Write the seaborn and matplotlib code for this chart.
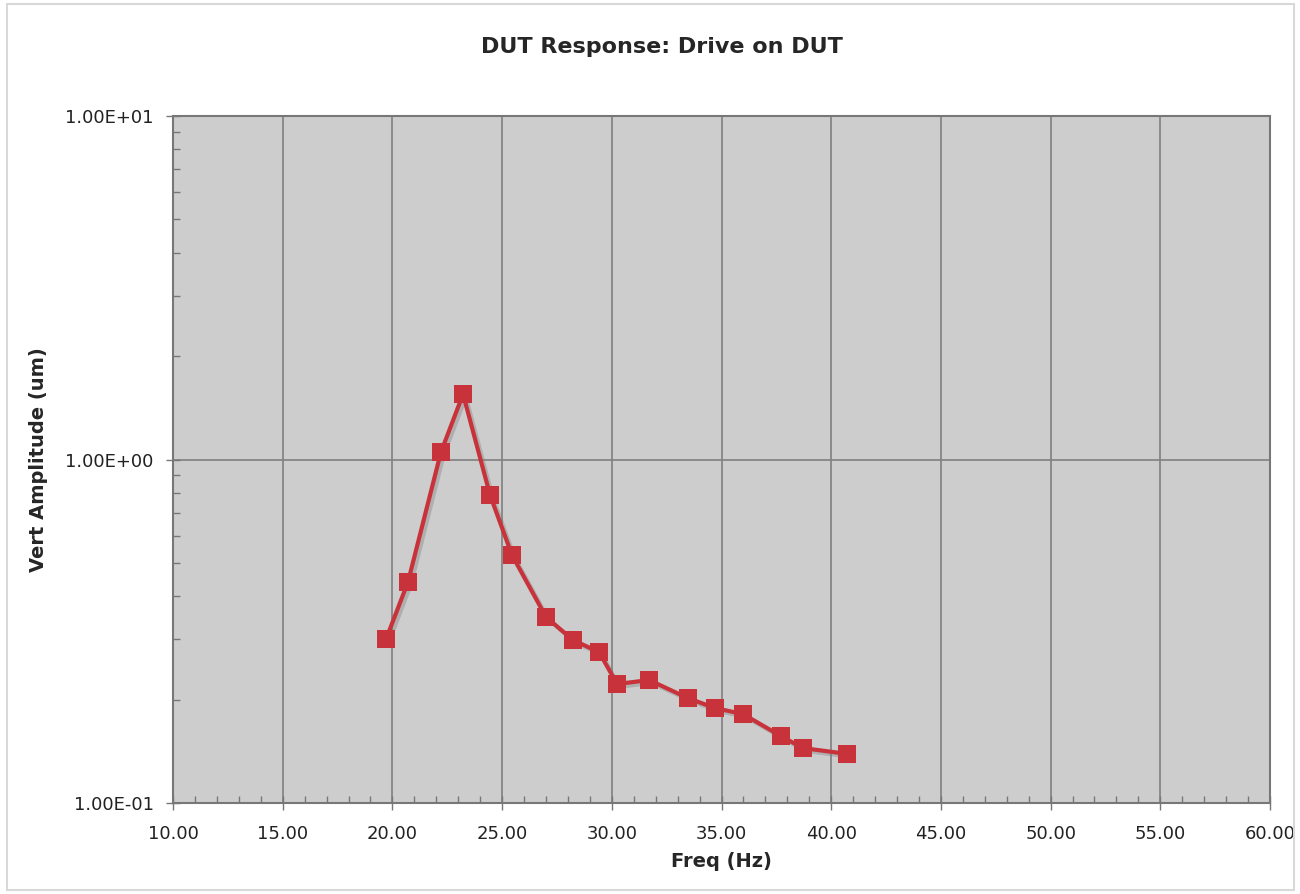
import numpy as np
import pandas as pd
import matplotlib
matplotlib.use('Agg')
import matplotlib.pyplot as plt
import matplotlib.patheffects as pe
from matplotlib.ticker import FuncFormatter, MultipleLocator, LogLocator, NullFormatter
from matplotlib.patches import Rectangle
import seaborn as sns

# values
freq = [19.71, 20.71, 22.21, 23.22, 24.45, 25.45, 27.00, 28.23, 29.42, 30.24,
        31.70, 33.47, 34.70, 35.98, 37.71, 38.71, 40.72]
amplitude = [0.300, 0.440, 1.05, 1.55, 0.788, 0.527, 0.348, 0.298, 0.275, 0.222,
             0.228, 0.202, 0.189, 0.1815, 0.1566, 0.1445, 0.139]

title = 'DUT Response: Drive on DUT'
xlabel = 'Freq (Hz)'
ylabel = 'Vert Amplitude (um)'

linecolor = '#c8323a'


def main():
    df = pd.DataFrame({'freq': freq, 'amp': amplitude})

    sns.set_style('ticks')
    plt.rcParams['font.family'] = ['DejaVu Sans']

    fig = plt.figure(figsize=(13, 8.94), dpi=100)
    ax = fig.add_axes([0.1331, 0.1018, 0.8438, 0.7684])
    ax.set_facecolor('#cdcdcd')

    sns.lineplot(data=df, x='freq', y='amp', ax=ax, color=linecolor, linewidth=3,
                 marker='s', markersize=13, markeredgewidth=0, sort=False,
                 path_effects=[pe.SimpleLineShadow(offset=(2, -2), shadow_color='#777777', alpha=0.35),
                               pe.Normal()])

    ax.set_yscale('log')
    ax.set_xlim(10, 60)
    ax.set_ylim(0.1, 10)

    ax.xaxis.set_major_locator(MultipleLocator(5))
    ax.xaxis.set_minor_locator(MultipleLocator(1))
    ax.xaxis.set_major_formatter(FuncFormatter(lambda v, p: '%.2f' % v))
    ax.yaxis.set_major_locator(LogLocator(base=10, numticks=5))
    ax.yaxis.set_minor_locator(LogLocator(base=10, subs=np.arange(2, 10), numticks=20))
    ax.yaxis.set_minor_formatter(NullFormatter())
    ax.yaxis.set_major_formatter(FuncFormatter(lambda v, p: '%.2E' % v))

    ax.grid(True, which='major', color='#808080', linewidth=1.2)
    ax.set_axisbelow(True)

    ax.tick_params(which='major', direction='inout', length=10, width=1, color='#777777',
                   labelsize=13, labelcolor='#222222')
    ax.tick_params(axis='x', which='major', pad=11)
    ax.tick_params(axis='y', which='major', pad=9)
    ax.tick_params(which='minor', direction='in', length=5, width=1, color='#777777')
    for s in ax.spines.values():
        s.set_color('#777777')
        s.set_linewidth(1.5)

    ax.set_xlabel(xlabel, fontsize=14, fontweight='bold', labelpad=6)
    ax.set_ylabel(ylabel, fontsize=14, fontweight='bold', labelpad=12)
    fig.text(0.509, 0.947, title, ha='center', va='center', fontsize=16, fontweight='bold')

    fig.patches.append(Rectangle((0.005, 0.005), 0.99, 0.99, transform=fig.transFigure,
                                 fill=False, edgecolor='#d8d8d8', linewidth=1.5))

    fig.savefig('out.png', dpi=100)


if __name__ == '__main__':
    main()
